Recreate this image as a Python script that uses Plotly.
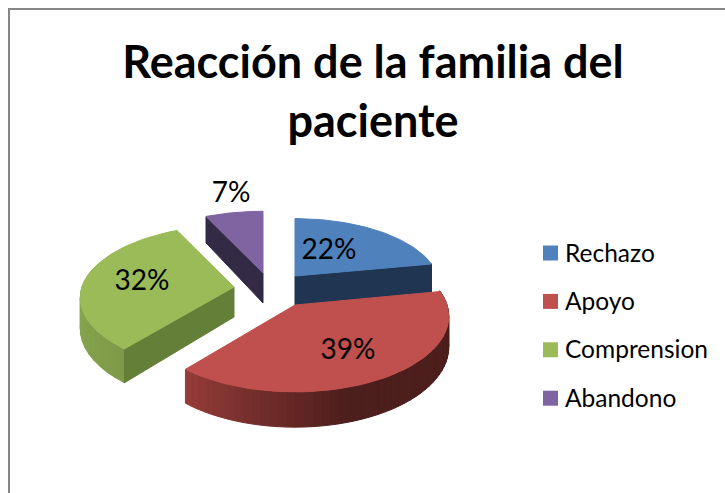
import math
import plotly.graph_objects as go

categories = ["Rechazo", "Apoyo", "Comprension", "Abandono"]
values = [22, 39, 32, 7]
top_colors = ["#4f81bd", "#c0504d", "#9bbb59", "#8064a2"]
cut_colors = ["#1f3552", "#4d1e1c", "#647f37", "#332a45"]
title_text = "Reacción de la familia del<br>paciente"

# projection of the 3-D pie (pixel space of a 725x493 canvas)
A, B, K, DEPTH = 152, 71, 0.15, 30
CENTER = (265, 287)
EXPLODE = {"Rechazo": (30, -11), "Apoyo": (30, 18), "Comprension": (-31, 0), "Abandono": (-2, -14)}
SCALE = {"Rechazo": (0.94, 0.93), "Apoyo": (1.0, 1.04), "Comprension": (1.0, 1.0), "Abandono": (1.0, 1.0)}
LABEL_POS = {"Rechazo": (329, 252), "Apoyo": (348, 352), "Comprension": (142, 283), "Abandono": (231, 195)}
FONT = "Lato, Carlito, Calibri, sans-serif"


def proj(theta, name, depth=0):
    u, v = math.sin(theta), math.cos(theta)
    s = 1 / (1 + K * v)
    p = apex[name]
    sx, sy = SCALE[name]
    return p[0] + A * sx * u * s, p[1] - B * sy * v * s + depth * s


def poly(fig, pts, color):
    fig.add_trace(go.Scatter(
        x=[p[0] for p in pts] + [pts[0][0]], y=[p[1] for p in pts] + [pts[0][1]],
        mode="lines", fill="toself", fillcolor=color, line=dict(color=color, width=1),
        hoverinfo="skip", showlegend=False))


def mix(c1, c2, t):
    a = [int(c1[i:i + 2], 16) for i in (1, 3, 5)]
    b = [int(c2[i:i + 2], 16) for i in (1, 3, 5)]
    return "#" + "".join(f"{round(x + (y - x) * t):02x}" for x, y in zip(a, b))


fig = go.Figure()
total = sum(values)
spans = {}
cum = 0
for name, val in zip(categories, values):
    spans[name] = (2 * math.pi * cum / total, 2 * math.pi * (cum + val) / total)
    cum += val
apex = {n: (CENTER[0] + d[0], CENTER[1] + d[1]) for n, d in EXPLODE.items()}
idx = {n: i for i, n in enumerate(categories)}


def arc(name, n=60):
    a0, a1 = spans[name]
    return [proj(a0 + (a1 - a0) * i / n, name) for i in range(n + 1)]


def cut(name, angle):
    p = apex[name]
    return [(p[0], p[1]), proj(angle, name), proj(angle, name, DEPTH), (p[0], p[1] + DEPTH)]


def wall(name, t0, t1, c0, c1, n, hold=0.0):
    for i in range(n):
        a = t0 + (t1 - t0) * i / n
        b = t0 + (t1 - t0) * (i + 1) / n
        f = max(0.0, (i / max(n - 1, 1) - hold) / (1 - hold))
        poly(fig, [proj(a, name), proj(b, name), proj(b, name, DEPTH), proj(a, name, DEPTH)], mix(c0, c1, f))


# back to front
n = "Abandono"
poly(fig, cut(n, spans[n][0]), cut_colors[idx[n]])
poly(fig, [apex[n]] + arc(n), top_colors[idx[n]])

n = "Rechazo"
poly(fig, cut(n, spans[n][1]), cut_colors[idx[n]])
poly(fig, [apex[n]] + arc(n), top_colors[idx[n]])

n = "Comprension"
wall(n, spans[n][0], 3 * math.pi / 2 + 0.25, "#7f9b49", "#8aa850", 14)
poly(fig, cut(n, spans[n][0]), cut_colors[idx[n]])
poly(fig, [apex[n]] + arc(n), top_colors[idx[n]])

n = "Apoyo"
wall(n, math.pi / 2 - 0.2, spans[n][1], "#4c1e1c", "#953b38", 50, hold=0.6)
poly(fig, [apex[n]] + arc(n), top_colors[idx[n]])

# data labels
fig.add_trace(go.Scatter(
    x=[LABEL_POS[c][0] for c in categories], y=[LABEL_POS[c][1] for c in categories],
    text=[f"{v}%" for v in values], mode="text", textposition="middle center",
    textfont=dict(family=FONT, size=28, color="#000000"), hoverinfo="skip", showlegend=False))

# legend
LEG_X, LEG_Y, LEG_STEP = 550.5, 253, 48.4
fig.add_trace(go.Scatter(
    x=[LEG_X] * 4, y=[LEG_Y + LEG_STEP * i for i in range(4)], mode="markers",
    marker=dict(symbol="square", size=15, color=top_colors, line=dict(width=0)),
    hovertext=categories, hoverinfo="text", showlegend=False))
for i, c in enumerate(categories):
    fig.add_annotation(x=LEG_X + 14.5, y=LEG_Y + LEG_STEP * i, text=c, showarrow=False, xanchor="left",
                       yanchor="middle", xshift=-2, yshift=1, font=dict(family=FONT, size=24.5, color="#000000"))

fig.update_layout(
    width=725, height=493, margin=dict(l=0, r=0, t=0, b=0), paper_bgcolor="white", plot_bgcolor="white",
    title=dict(text=title_text, x=373 / 725, xanchor="center", y=1 - 78 / 493, yanchor="top",
               font=dict(family=FONT, size=45, color="#000000", weight="bold")),
    xaxis=dict(range=[0, 725], visible=False, fixedrange=True),
    yaxis=dict(range=[493, 0], visible=False, fixedrange=True),
    shapes=[dict(type="rect", xref="x", yref="y", x0=9, y0=9, x1=760, y1=530, line=dict(color="#868686", width=2),
                 layer="below")],
)
fig.write_html("out.html", config=dict(displayModeBar=False),
               post_script="document.body.style.margin='0';document.body.style.overflow='hidden';")
